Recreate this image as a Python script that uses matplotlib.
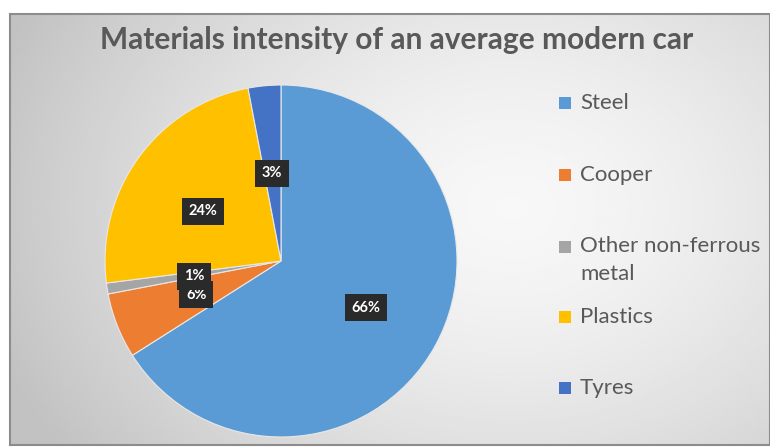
import matplotlib.pyplot as plt
import numpy as np
from matplotlib.patches import Rectangle

# data
materials = ["Steel", "Cooper", "Other non-ferrous\nmetal", "Plastics", "Tyres"]
shares = [66, 6, 1, 24, 3]
colors = ["#5B9BD5", "#ED7D31", "#A5A5A5", "#FFC000", "#4472C4"]
title = "Materials intensity of an average modern car"

# small nudges for data labels (axes units), like Excel's placement
label_nudge = [(0.0, 0.0), (0.03, 0.01), (0.05, 0.0), (0.0, -0.04), (0.0, -0.05)]

W, H = 770, 447


def fx(px):
    return px / W


def fy(py):
    return 1 - py / H


def main():
    plt.rcParams["font.family"] = ["Lato", "DejaVu Sans"]
    fig = plt.figure(figsize=(W / 100, H / 100), dpi=100)
    fig.patch.set_facecolor("white")

    # background panel with a soft radial gradient
    bg = fig.add_axes([fx(10), fy(445), fx(760), (445 - 14) / H])
    yy, xx = np.mgrid[0:1:200j, 0:1:300j]
    d = np.sqrt(((xx - 0.66) / 0.7) ** 2 + ((yy - 0.45) / 0.95) ** 2)
    shade = np.clip(0.97 - 0.2 * d ** 1.5, 0.76, 0.98)
    bg.imshow(shade, cmap="gray", vmin=0, vmax=1, aspect="auto",
              extent=[0, 1, 0, 1], origin="upper")
    bg.set_xticks([])
    bg.set_yticks([])
    for s in bg.spines.values():
        s.set_color("#8c8c8c")
        s.set_linewidth(1.5)

    # pie
    cx, cy, r = 281, 261, 176
    ax = fig.add_axes([fx(cx - r), fy(cy + r), 2 * r / W, 2 * r / H])
    ax.set_facecolor("none")
    wedges, texts, autotexts = ax.pie(
        shares, colors=colors, startangle=90, counterclock=False,
        autopct=lambda p: f"{p:.0f}%", pctdistance=0.55,
        wedgeprops=dict(linewidth=0.8, edgecolor="#e8e8e8"),
        textprops=dict(color="white", fontsize=10.5, fontweight="bold"),
    )
    for t, (dx, dy) in zip(autotexts, label_nudge):
        x0, y0 = t.get_position()
        t.set_position((x0 + dx, y0 + dy))
        t.set_bbox(dict(boxstyle="square,pad=0.45", fc="#2a2a2a", ec="none"))
    ax.set_aspect("auto")
    ax.set_xlim(-1, 1)
    ax.set_ylim(-1, 1)
    ax.axis("off")

    fig.text(fx(397), fy(40), title, ha="center", va="center",
             fontsize=21.5, fontweight="bold", color="#595959")

    # legend
    legend_y = [103, 175, 247, 317, 388]
    for name, col, ly in zip(materials, colors, legend_y):
        fig.patches.append(Rectangle((fx(559), fy(ly + 6)), 12 / W, 12 / H,
                                     transform=fig.transFigure, fc=col, ec="none"))
        multi = "\n" in name
        fig.text(fx(580), fy(ly - 11) if multi else fy(ly), name, ha="left",
                 va="top" if multi else "center",
                 fontsize=16, color="#595959", linespacing=1.5,
                 transform=fig.transFigure)

    fig.savefig("out.png", dpi=100)


if __name__ == "__main__":
    main()
